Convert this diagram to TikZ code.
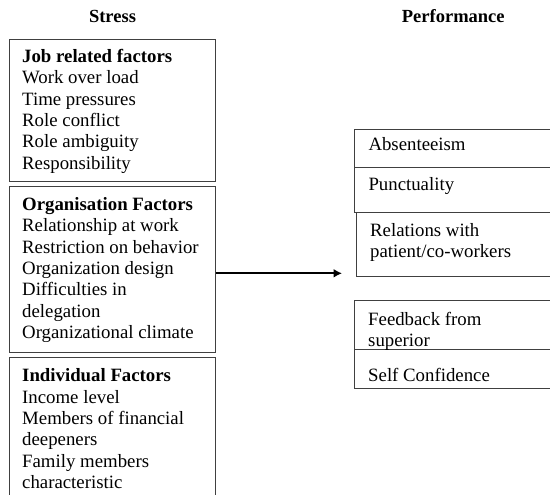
\documentclass[tikz,border=0pt]{standalone}
\usepackage{fontspec}
\setmainfont{Liberation Serif}
\usetikzlibrary{arrows.meta}
\begin{document}
\begin{tikzpicture}[x=1pt,y=-1pt,
  frame/.style={draw=black!75, line width=0.9pt, inner sep=0pt, outer sep=0pt,
    anchor=north west},
  txt/.style={anchor=north west, inner sep=0pt, align=left,
    font=\fontsize{18.8}{21.4}\selectfont},
  head/.style={anchor=base, inner sep=0pt, font=\fontsize{18.5}{21}\selectfont\bfseries},
  link/.style={line width=2.2pt, -{Latex[length=8.5pt,width=9pt]}}]
\useasboundingbox (0,0) rectangle (550,495);
\clip (0,0) rectangle (550,495);

% column headings
\node[head] (stress) at (112.5,22.7) {Stress};
\node[head] (perf) at (453.3,22.7) {Performance};

% stress factors (left column)
\node[frame, minimum width=206.4pt, minimum height=142.7pt] (jobbox) at (9.3,39) {};
\node[frame, minimum width=206.4pt, minimum height=166.7pt] (orgbox) at (9.3,186) {};
\node[frame, minimum width=206.4pt, minimum height=160pt] (indbox) at (9.3,357) {};

\node[txt] (jobtxt) at (22,47) {\rule{0pt}{15pt}\textbf{Job related factors}\\
  Work over load\\ Time pressures\\ Role conflict\\ Role ambiguity\\ Responsibility};
\node[txt] (orgtxt) at (22,195) {\rule{0pt}{15pt}\textbf{Organisation Factors}\\
  Relationship at work\\ Restriction on behavior\\ Organization design\\
  Difficulties in\\ delegation\\ Organizational climate};
\node[txt] (indtxt) at (22,366.5) {\rule{0pt}{15pt}\textbf{Individual Factors}\\
  Income level\\ Members of financial\\ deepeners\\ Family members\\ characteristic};

% performance measures (right column, running off the right edge)
\node[frame, minimum width=220pt, minimum height=38.7pt] (absbox) at (354.3,129) {};
\node[frame, minimum width=220pt, minimum height=44.6pt] (punbox) at (354.3,167.7) {};
\node[frame, minimum width=220pt, minimum height=64.4pt] (relbox) at (356.7,212.3) {};
\node[frame, minimum width=220pt, minimum height=48.3pt] (feedbox) at (354,300.7) {};
\node[frame, minimum width=220pt, minimum height=39.3pt] (selfbox) at (354,349) {};

\node[txt] (abstxt) at (368.3,135.7) {\rule{0pt}{15pt}Absenteeism};
\node[txt] (puntxt) at (368.3,175.7) {\rule{0pt}{15pt}Punctuality};
\node[txt] (reltxt) at (370,221) {\rule{0pt}{15pt}Relations with\\ patient/co-workers};
\node[txt] (feedtxt) at (368,310) {\rule{0pt}{15pt}Feedback from\\ superior};
\node[txt] (selftxt) at (368,366.7) {\rule{0pt}{15pt}Self Confidence};

% stress leads to performance
\coordinate (tip) at (342,273.3);
\draw[link] (orgbox.east |- tip) -- (tip);
\end{tikzpicture}
\end{document}
